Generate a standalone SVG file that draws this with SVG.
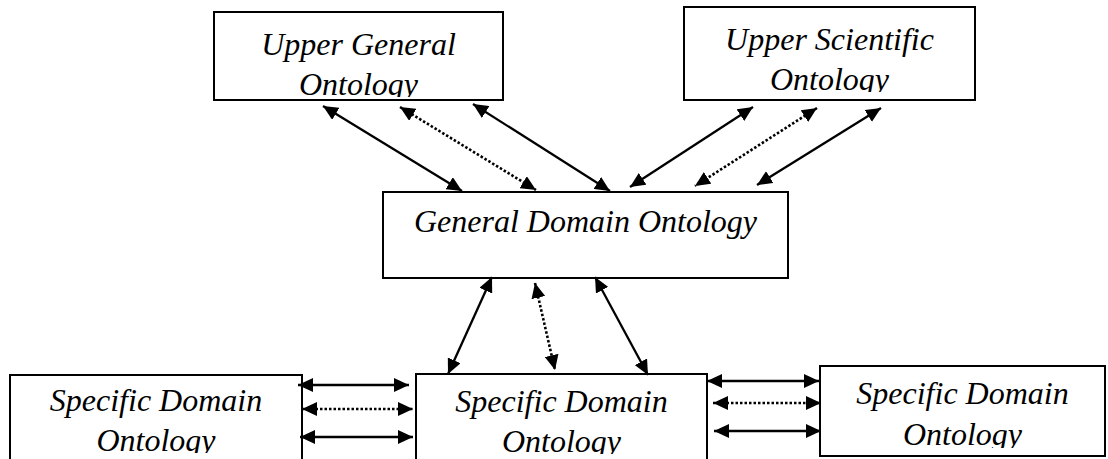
<svg xmlns="http://www.w3.org/2000/svg" width="1108" height="459" viewBox="0 0 1108 459">
  <style>
    .box { fill: #fff; stroke: #000; stroke-width: 2; }
    .lbl { font-family: "Liberation Serif", "Times New Roman", serif; font-style: italic; font-size: 32px; fill: #000; text-anchor: middle; }
    .solid { stroke: #000; stroke-width: 2.3; fill: none; marker-start: url(#ah); marker-end: url(#ah); }
    .dot { stroke: #000; stroke-width: 2.6; stroke-dasharray: 2.5 2; fill: none; marker-start: url(#ah); marker-end: url(#ah); }
  </style>
  <defs>
    <marker id="ah" viewBox="0 0 15 14" refX="15" refY="7" markerWidth="15" markerHeight="14" markerUnits="userSpaceOnUse" orient="auto-start-reverse">
      <path d="M0,0 L15,7 L0,14 z" fill="#000"/>
    </marker>
    <clipPath id="cUG"><rect x="215" y="13" width="287" height="84"/></clipPath>
    <clipPath id="cUS"><rect x="685" y="8" width="289" height="84"/></clipPath>
    <clipPath id="cSL"><rect x="11" y="376" width="290" height="77"/></clipPath>
    <clipPath id="cSM"><rect x="417" y="375" width="289" height="79"/></clipPath>
    <clipPath id="cSR"><rect x="821" y="367" width="283" height="81"/></clipPath>
  </defs>
  <rect width="1108" height="459" fill="#fff"/>

  <g id="upper-general">
    <rect class="box" x="214" y="12" width="289" height="88"/>
    <g clip-path="url(#cUG)">
      <text class="lbl" x="358.5" y="55">Upper General</text>
      <text class="lbl" x="358.5" y="95">Ontology</text>
    </g>
  </g>

  <g id="upper-scientific">
    <rect class="box" x="684" y="7" width="291" height="93"/>
    <g clip-path="url(#cUS)">
      <text class="lbl" x="829.5" y="50">Upper Scientific</text>
      <text class="lbl" x="829.5" y="90">Ontology</text>
    </g>
  </g>

  <g id="general-domain">
    <rect class="box" x="383" y="192" width="405" height="86"/>
    <text class="lbl" x="585.5" y="232">General Domain Ontology</text>
  </g>

  <g id="specific-left">
    <rect class="box" x="10" y="375" width="292" height="100"/>
    <g clip-path="url(#cSL)">
      <text class="lbl" x="156" y="411">Specific Domain</text>
      <text class="lbl" x="156" y="451">Ontology</text>
    </g>
  </g>

  <g id="specific-middle">
    <rect class="box" x="416" y="374" width="291" height="100"/>
    <g clip-path="url(#cSM)">
      <text class="lbl" x="561.5" y="412">Specific Domain</text>
      <text class="lbl" x="561.5" y="452">Ontology</text>
    </g>
  </g>

  <g id="specific-right">
    <rect class="box" x="820" y="366" width="285" height="90"/>
    <g clip-path="url(#cSR)">
      <text class="lbl" x="962.5" y="404">Specific Domain</text>
      <text class="lbl" x="962.5" y="445">Ontology</text>
    </g>
  </g>

  <g id="connectors">
    <line class="solid" x1="323" y1="106" x2="462" y2="191"/>
    <line class="dot" x1="400" y1="107" x2="536" y2="190"/>
    <line class="solid" x1="473" y1="104" x2="610" y2="191"/>
    <line class="solid" x1="753" y1="107" x2="630" y2="187"/>
    <line class="dot" x1="817" y1="108" x2="695" y2="186"/>
    <line class="solid" x1="881" y1="108" x2="757" y2="185"/>
    <line class="solid" x1="492" y1="277" x2="448" y2="374"/>
    <line class="dot" x1="535" y1="283" x2="555" y2="370"/>
    <line class="solid" x1="595" y1="277" x2="648" y2="375"/>
    <line class="solid" x1="298" y1="385" x2="409" y2="385"/>
    <line class="dot" x1="302" y1="409" x2="413" y2="409"/>
    <line class="solid" x1="300" y1="437" x2="413" y2="437"/>
    <line class="solid" x1="707" y1="381" x2="819" y2="381"/>
    <line class="dot" x1="713" y1="403" x2="821" y2="403"/>
    <line class="solid" x1="714" y1="431" x2="821" y2="431"/>
  </g>
</svg>
